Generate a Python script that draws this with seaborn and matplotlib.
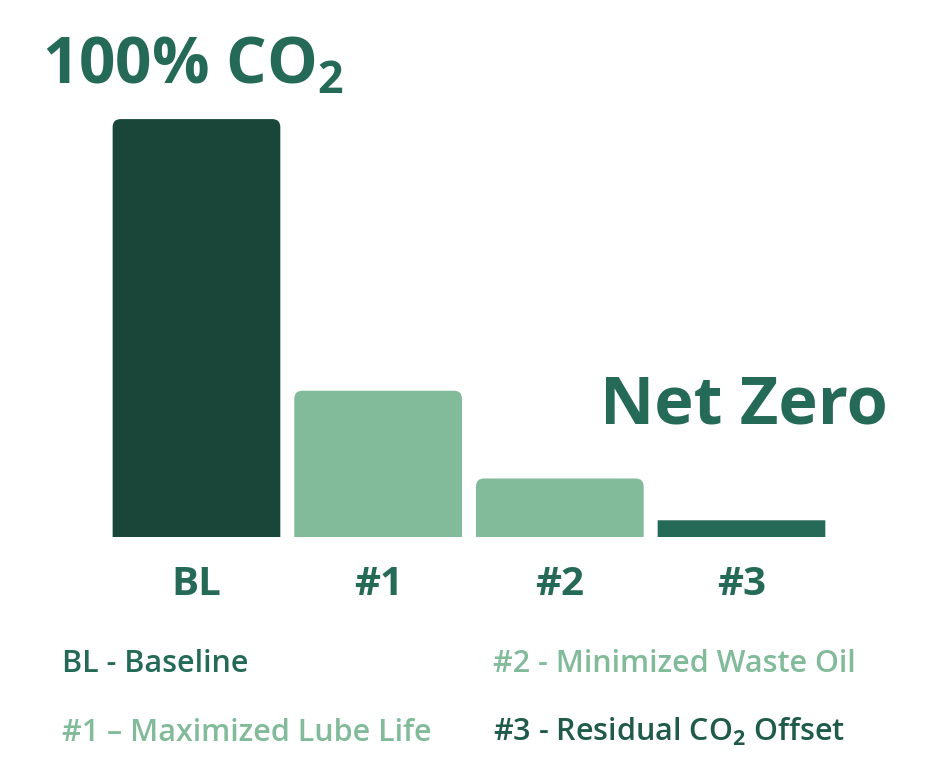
import matplotlib
matplotlib.use("Agg")
import matplotlib.pyplot as plt
import seaborn as sns
import pandas as pd
from matplotlib.patches import FancyBboxPatch

# data
categories = ["BL", "#1", "#2", "#3"]
co2_share = [100, 35, 14, 4]
bar_colors = ["#1a4639", "#82bb9a", "#82bb9a", "#256a57"]
legend_labels = ["BL - Baseline", "#1 \u2013 Maximized Lube Life",
                 "#2 - Minimized Waste Oil", "#3 - Residual CO$_\\mathbf{2}$ Offset"]
legend_colors = ["#256a57", "#82bb9a", "#82bb9a", "#1f5a4a"]

sns.set_theme(style="white")
plt.rcParams["font.family"] = ["Open Sans", "DejaVu Sans"]
plt.rcParams["mathtext.fontset"] = "custom"
plt.rcParams["mathtext.rm"] = "Open Sans"
plt.rcParams["mathtext.bf"] = "Open Sans:bold"

dark = "#256a57"
df = pd.DataFrame({"stage": categories, "share": co2_share})

fig = plt.figure(figsize=(9.25, 7.7), dpi=100)
ax = fig.add_axes([0.1142, 0.3026, 0.7856, 0.597])
sns.barplot(data=df, x="stage", y="share", hue="stage", palette=bar_colors,
            width=0.923, saturation=1, legend=False, ax=ax)
ax.set_xlim(-0.5, 3.5)
ax.set_ylim(0, 110)

# swap plain bars for ones with rounded top corners
r_px = 8
px_x = 181.7
px_y = 459.8 / 110
for i, p in enumerate(list(ax.patches)):
    x, w, h = p.get_x(), p.get_width(), p.get_height()
    col = p.get_facecolor()
    p.remove()
    rx = r_px / px_x if i < 3 else 0.0
    box = FancyBboxPatch((x, -5), w, h + 5,
                         boxstyle=f"round,pad=0,rounding_size={rx}",
                         mutation_aspect=(r_px / px_y) / rx if rx else 1,
                         fc=col, ec="none", clip_on=True)
    ax.add_patch(box)

ax.set_xlabel("")
ax.set_ylabel("")
ax.set_yticks([])
ax.tick_params(axis="x", length=0, pad=20)
for lab in ax.get_xticklabels():
    lab.set_fontsize(29)
    lab.set_fontweight("bold")
    lab.set_color(dark)
sns.despine(ax=ax, left=True, bottom=True)

fig.text(42 / 925, 1 - 83 / 770, "100% CO$_\\mathbf{2}$", fontsize=46,
         fontweight="bold", color=dark, va="baseline")
fig.text(600 / 925, 1 - 423 / 770, "Net Zero", fontsize=48,
         fontweight="bold", color=dark, va="baseline")

pos = [(62, 672), (62, 741), (493, 672), (493, 741)]
for (px, py), txt, c in zip(pos, legend_labels, legend_colors):
    fig.text(px / 925, 1 - py / 770, txt, fontsize=22, fontweight="semibold",
             color=c, va="baseline")

fig.savefig("out.png", dpi=100, facecolor="white")
